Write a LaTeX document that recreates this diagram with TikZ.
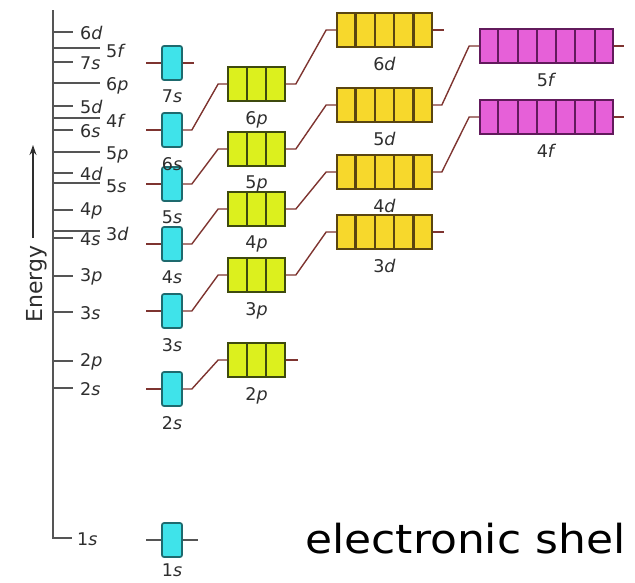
\documentclass[tikz,border=0pt]{standalone}
\usepackage{fontspec}
\usepackage{graphicx}
\setmainfont{DejaVu Sans}
\usetikzlibrary{calc,arrows.meta}
\definecolor{sfill}{HTML}{3FE3EA}
\definecolor{sdraw}{HTML}{1E6A6E}
\definecolor{pfill}{HTML}{DCF01E}
\definecolor{pdraw}{HTML}{3E4A0E}
\definecolor{dfill}{HTML}{F7D82C}
\definecolor{ddraw}{HTML}{5A4510}
\definecolor{ffill}{HTML}{E660D8}
\definecolor{fdraw}{HTML}{621A5C}
\definecolor{conncol}{HTML}{7E3430}
\definecolor{axcol}{HTML}{555555}
\definecolor{labcol}{HTML}{2E2E2E}
\tikzset{
  orb/.style={draw, line width=1.7pt, minimum height=34pt, inner sep=0pt},
  sorb/.style={orb, fill=sfill, draw=sdraw, minimum width=20pt, rounded corners=2pt},
  porb/.style={orb, fill=pfill, draw=pdraw, minimum width=57pt},
  dorb/.style={orb, fill=dfill, draw=ddraw, minimum width=95pt},
  forb/.style={orb, fill=ffill, draw=fdraw, minimum width=133pt},
  pdiv/.style={draw=pdraw, line width=2.4pt},
  ddiv/.style={draw=ddraw, line width=2.2pt},
  fdiv/.style={draw=fdraw, line width=2.2pt},
  conn/.style={draw=conncol, line width=1.4pt},
  graystub/.style={draw=axcol, line width=1.4pt},
  lab/.style={font=\fontsize{17.5}{17.5}\selectfont, text=labcol, inner sep=0pt},
  olab/.style={lab, anchor=north, yshift=-9pt},
  alab/.style={lab, anchor=west},
  axis/.style={draw=axcol, line width=1.8pt},
  tick/.style={draw=axcol, line width=1.3pt},
}
\begin{document}
\begin{tikzpicture}[x=1pt,y=-1pt]
\useasboundingbox (0,0) rectangle (635,582);
% ---------- energy axis ----------
\coordinate (axtop) at (53,10);
\coordinate (axbot) at (53,538);
\coordinate (axend) at (72,538);
\draw[axis] (axtop) -- (axbot) -- (axend);
\node[alab] (a1s) at (77,539) {1\textit{s}};
% short ticks
\foreach \y/\t [count=\k] in {32/6\textit{d},62/7\textit{s},106/5\textit{d},130/6\textit{s},173/4\textit{d},210/4\textit{p},238/4\textit{s},276/3\textit{p},312/3\textit{s},361/2\textit{p},388/2\textit{s}}{
  \coordinate (ts\k) at (53,\y);
  \draw[tick] (ts\k) -- ++(20,0);
  \node[alab] (as\k) at (80,\y+1) {\t};
}
% long ticks
\foreach \y/\t [count=\k] in {48/5\textit{f},83/6\textit{p},118/4\textit{f},152/5\textit{p},183/5\textit{s},231/3\textit{d}}{
  \coordinate (tl\k) at (53,\y);
  \draw[tick] (tl\k) -- ++(47,0);
  \node[alab] (al\k) at (106,\y+3) {\t};
}
% Energy label and arrow
\node[rotate=90, font=\fontsize{22}{22}\selectfont, text=labcol, inner sep=0pt] (en) at (37,284) {Energy};
\coordinate (arrbot) at (33,238);
\coordinate (arrtip) at (33,145);
\draw[draw=labcol, line width=1.4pt, -{Stealth[length=10pt,width=7pt]}] (arrbot) -- (arrtip);
% ---------- s orbitals ----------
\foreach \n/\y in {1/540,2/389,3/311,4/244,5/184,6/130,7/63}{
  \node[sorb] (s\n) at (172,\y) {};
}
% ---------- p orbitals ----------
\foreach \n/\y in {2/360,3/275,4/209,5/149,6/84}{
  \node[porb] (p\n) at (256.5,\y) {};
  \foreach \i in {1,2}
    \draw[pdiv] ($(p\n.north west)!\i/3!(p\n.north east)$) -- ($(p\n.south west)!\i/3!(p\n.south east)$);
}
% ---------- d orbitals ----------
\foreach \n/\y in {3/232,4/172,5/105,6/30}{
  \node[dorb] (d\n) at (384.5,\y) {};
  \foreach \i in {1,2,3,4}
    \draw[ddiv] ($(d\n.north west)!\i/5!(d\n.north east)$) -- ($(d\n.south west)!\i/5!(d\n.south east)$);
}
% ---------- f orbitals ----------
\foreach \n/\y in {4/117,5/46}{
  \node[forb] (f\n) at (546.5,\y) {};
  \foreach \i in {1,...,6}
    \draw[fdiv] ($(f\n.north west)!\i/7!(f\n.north east)$) -- ($(f\n.south west)!\i/7!(f\n.south east)$);
}
% ---------- labels under boxes ----------
\node[lab, anchor=north, yshift=-6pt] (ls1) at (s1.south) {1\textit{s}};
\foreach \n in {2,...,7} \node[olab] (ls\n) at (s\n.south) {\n\textit{s}};
\foreach \n in {2,...,6} \node[olab] (lp\n) at (p\n.south) {\n\textit{p}};
\foreach \n in {3,...,6} \node[olab] (ld\n) at (d\n.south) {\n\textit{d}};
\foreach \n in {4,5} \node[olab] (lf\n) at (f\n.south) {\n\textit{f}};
% ---------- connectors ----------
\foreach \n in {2,...,6}
  \draw[conn] (s\n.east) -- ++(9,0) -- ($(p\n.west)+(-9,0)$) -- (p\n.west);
\foreach \n in {3,...,6}
  \draw[conn] (p\n.east) -- ++(10,0) -- ($(d\n.west)+(-10,0)$) -- (d\n.west);
\foreach \n in {4,5}
  \draw[conn] (d\n.east) -- ++(9,0) -- ($(f\n.west)+(-10,0)$) -- (f\n.west);
% ---------- free stubs ----------
\foreach \n in {2,...,7} \draw[conn] (s\n.west) -- ++(-15,0);
\draw[graystub] (s1.west) -- ++(-15,0);
\draw[graystub] (s1.east) -- ++(15,0);
\draw[conn] (s7.east) -- ++(11,0);
\draw[conn] (p2.east) -- ++(12,0);
\draw[conn] (d3.east) -- ++(11,0);
\draw[conn] (d6.east) -- ++(11,0);
\draw[conn] (f4.east) -- ++(10,0);
\draw[conn] (f5.east) -- ++(10,0);
% ---------- caption ----------
\node[anchor=base west, inner sep=0pt, font=\fontsize{40}{40}\selectfont] (title) at (305,553) {\scalebox{1.1}[1]{electronic shel}};
\end{tikzpicture}
\end{document}
